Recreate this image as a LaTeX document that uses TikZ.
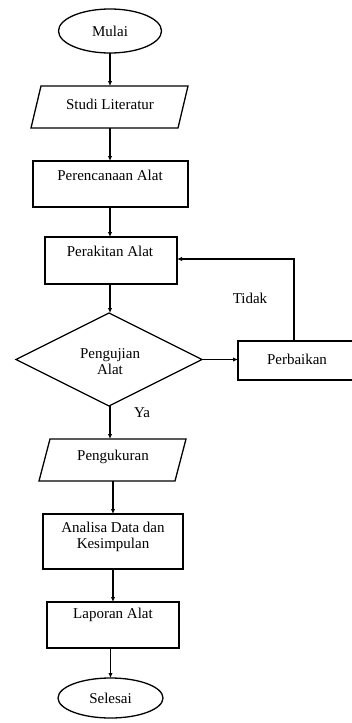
\documentclass[tikz,border=0pt]{standalone}
\usepackage{fontspec}
\setmainfont{Liberation Serif}
\usetikzlibrary{shapes.geometric,arrows.meta}
\begin{document}
\begin{tikzpicture}[x=1pt,y=-1pt,
  line width=1.3pt,
  every node/.style={inner sep=0pt, outer sep=0pt},
  txt/.style={font=\fontsize{15}{17}\selectfont, align=center},
  box/.style={draw, rectangle},
  term/.style={draw, ellipse},
  para/.style={rectangle},
  arr/.style={-{Latex[length=5pt,width=4.5pt]}}]
\useasboundingbox (0,0) rectangle (352,723);
\clip (0,0) rectangle (352,723);
% nodes
\node[term, minimum width=103pt, minimum height=44pt] (mulai) at (110,31) {};
\node[txt] (tmulai) at (110,31) {Mulai};

\node[para, minimum width=157pt, minimum height=42pt] (studi) at (109.5,107) {};
\draw ([xshift=10pt]studi.north west) -- (studi.north east) -- ([xshift=-10pt]studi.south east) -- (studi.south west) -- cycle;
\node[txt] (tstudi) at (110,104) {Studi Literatur};

\node[box, minimum width=155pt, minimum height=46pt] (renc) at (110.5,184) {};
\node[txt] (trenc) at (110,175) {Perencanaan Alat};

\node[box, minimum width=132pt, minimum height=47pt] (rakit) at (111,260.5) {};
\node[txt] (trakit) at (110,251) {Perakitan Alat};

\node[draw, diamond, aspect=2, minimum width=186pt, minimum height=93pt] (uji) at (109,359.5) {};
\node[txt] (tuji) at (110,362) {Pengujian\\[-1pt]Alat};

\node[box, minimum width=118pt, minimum height=39pt] (baik) at (297,360.5) {};
\node[txt] (tbaik) at (297,359) {Perbaikan};

\node[para, minimum width=147pt, minimum height=42pt] (ukur) at (112.5,460) {};
\draw ([xshift=11pt]ukur.north west) -- (ukur.north east) -- ([xshift=-11pt]ukur.south east) -- (ukur.south west) -- cycle;
\node[txt] (tukur) at (113,457) {Pengukuran};

\node[box, minimum width=140pt, minimum height=55pt] (anal) at (113,541.5) {};
\node[txt] (tanal) at (113,536.5) {Analisa Data dan\\[-1pt]Kesimpulan};

\node[box, minimum width=132pt, minimum height=46pt] (lapor) at (113,625) {};
\node[txt] (tlapor) at (113,615) {Laporan Alat};

\node[term, minimum width=105pt, minimum height=40pt] (selesai) at (110.5,698) {};
\node[txt] (tselesai) at (110.5,698) {Selesai};

\node[txt] (tidak) at (250,298) {Tidak};
\node[txt] (ya) at (142,413) {Ya};

% connectors
\draw[arr] (mulai.south) -- (mulai.south |- studi.north);
\draw[arr] (mulai.south |- studi.south) -- (mulai.south |- renc.north);
\draw[arr] (mulai.south |- renc.south) -- (mulai.south |- rakit.north);
\draw[arr] (mulai.south |- rakit.south) -- (mulai.south |- uji.north);
\draw[arr] (mulai.south |- uji.south) -- (mulai.south |- ukur.north);
\draw[arr] (anal.north |- ukur.south) -- (anal.north);
\draw[arr] (anal.south) -- (anal.south |- lapor.north);
\draw[arr] (selesai.north |- lapor.south) -- (selesai.north);
\draw[arr] (uji.east) -- (uji.east -| baik.west);
\draw[arr] (294,341) |- (rakit.east |- 0,259);
\end{tikzpicture}
\end{document}
